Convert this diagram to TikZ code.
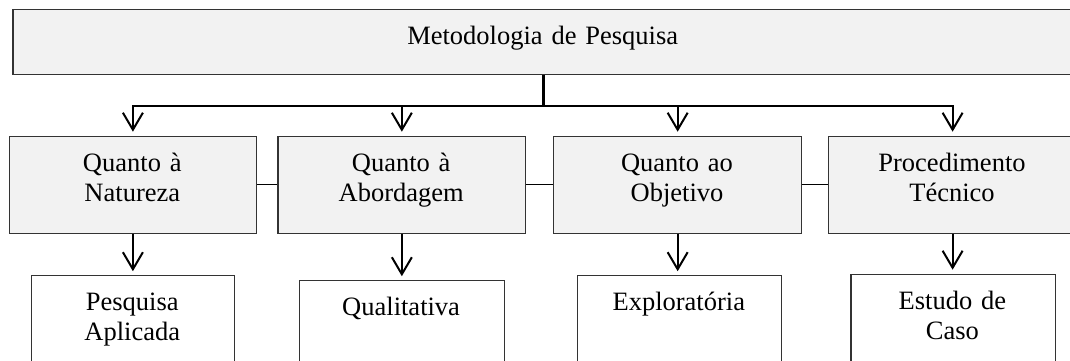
\documentclass[tikz,border=0pt]{standalone}
\usepackage{fontspec}
\setmainfont{Liberation Serif}
\usetikzlibrary{arrows.meta}
\definecolor{boxgray}{HTML}{F2F2F2}
\begin{document}
\begin{tikzpicture}[x=1pt,y=-1pt,
  box/.style={draw=black!80, line width=1.2pt, fill=boxgray, inner sep=0pt, anchor=north west},
  wbox/.style={box, fill=white},
  lbl/.style={anchor=base, inner sep=0pt, text width=240pt, align=center, font=\fontsize{26.5}{30}\selectfont},
  arr/.style={line width=2pt, -{Straight Barb[length=17pt,width=20pt]}},
  link/.style={line width=1.6pt}]
\useasboundingbox (0,0) rectangle (1070,360);
% top box
\node[box, minimum width=1060.6pt, minimum height=65pt] (top) at (12.4,9) {};
\node[lbl, text width=600pt] (ttop) at (542.7,44) {Metodologia de Pesquisa};
% second row
\node[box, minimum width=247.4pt, minimum height=97pt] (b1) at (8.6,135.5) {};
\node[box, minimum width=247.9pt, minimum height=97pt] (b2) at (277.3,135.5) {};
\node[box, minimum width=247.9pt, minimum height=97pt] (b3) at (553.1,135.5) {};
\node[box, minimum width=248pt, minimum height=97pt] (b4) at (828,135.5) {};
\node[lbl] (t1) at (132.3,171.5) {Quanto à\\Natureza};
\node[lbl] (t2) at (401.2,171.5) {Quanto à\\Abordagem};
\node[lbl] (t3) at (677,171.5) {Quanto ao\\Objetivo};
\node[lbl] (t4) at (952,171.5) {Procedimento\\Técnico};
% third row
\node[wbox, minimum width=203.3pt, minimum height=130pt] (c1) at (30.7,275) {};
\node[wbox, minimum width=204.8pt, minimum height=130pt] (c2) at (298.7,280) {};
\node[wbox, minimum width=204pt, minimum height=130pt] (c3) at (576.8,275) {};
\node[wbox, minimum width=204.2pt, minimum height=130pt] (c4) at (850.3,273.5) {};
\node[lbl] (u1) at (132.3,310.7) {Pesquisa\\Aplicada};
\node[lbl] (u2) at (401.1,315) {Qualitativa};
\node[lbl] (u3) at (678.8,310.5) {Exploratória};
\node[lbl] (u4) at (952.4,309) {Estudo de\\Caso};
% stem and bus
\draw[line width=3pt] (top.south) -- ++(0,30.5) coordinate (busc);
\draw[line width=2pt, line cap=rect] (b1.north |- busc) -- (b4.north |- busc);
\foreach \b in {b1,b2,b3,b4}
  \draw[arr, shorten >=3.8pt] (\b.north |- busc) -- (\b.north);
% links between second-row boxes
\draw[link] (b1.east) -- (b2.west);
\draw[link] (b2.east) -- (b3.west);
\draw[link] (b3.east) -- (b4.west);
% arrows down to third row
\draw[arr, shorten >=3.8pt] (b1.south) -- (b1.south |- c1.north);
\draw[arr, shorten >=3.8pt] (b2.south) -- (b2.south |- c2.north);
\draw[arr, shorten >=3.8pt] (b3.south) -- (b3.south |- c3.north);
\draw[arr, shorten >=3.8pt] (b4.south) -- (b4.south |- c4.north);
\end{tikzpicture}
\end{document}
